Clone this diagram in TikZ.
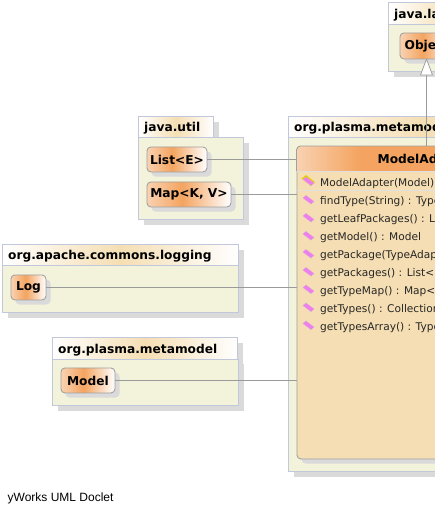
\documentclass[tikz,border=0pt]{standalone}
\usepackage{fontspec}
\usetikzlibrary{calc}
\setmainfont{DejaVu Sans}
\newfontfamily\footfont{Liberation Sans}
\definecolor{pkgline}{HTML}{C2C8DC}
\definecolor{pkgbody}{HTML}{F3F3DC}
\definecolor{shadowc}{HTML}{DADADA}
\definecolor{classline}{HTML}{A0A0A0}
\definecolor{classbody}{HTML}{F5DEB3}
\definecolor{connc}{HTML}{9A9A9A}
\definecolor{orangec}{HTML}{F4A460}
\definecolor{orangel}{HTML}{F9D2B2}
\definecolor{iconpink}{HTML}{F07CF0}
\definecolor{iconedge}{HTML}{D8A8D8}
\definecolor{iconyellow}{HTML}{E8D000}
\pgfdeclarehorizontalshading{tabshade}{100bp}{color(0bp)=(white);color(25bp)=(white);color(50bp)=(classbody);color(75bp)=(white);color(100bp)=(white)}
\pgfdeclarehorizontalshading{classshade}{100bp}{color(0bp)=(orangel);color(25bp)=(orangel);color(46bp)=(orangec);color(75bp)=(white);color(100bp)=(white)}
\pgfdeclarehorizontalshading{headshade}{100bp}{color(0bp)=(orangel);color(25bp)=(orangel);color(37bp)=(orangec);color(75bp)=(orangec);color(100bp)=(orangec)}
\tikzset{
  x=1pt,y=-1pt,
  pkgbodyst/.style={draw=pkgline,fill=pkgbody,line width=.8pt},
  pkgtab/.style={draw=pkgline,line width=.8pt,shading=tabshade},
  shadowst/.style={fill=shadowc,draw=none},
  pkgtitle/.style={anchor=base west,inner sep=0pt,font=\fontsize{12.2}{14}\selectfont\bfseries,text=black},
  cls/.style={draw=classline,line width=.9pt,rounded corners=4pt,shading=classshade,anchor=north west,inner sep=0pt,font=\fontsize{12.2}{14}\selectfont\bfseries,text=black},
  conn/.style={draw=connc,line width=.8pt},
  member/.style={anchor=base west,inner sep=0pt,font=\fontsize{10.6}{12}\selectfont,text=black!85},
  iconst/.style={fill=iconpink,draw=iconedge,line width=.4pt},
}
\newcommand{\pkg}[7]{% x1 y1 tabright tabbottom right bottom title
  \fill[shadowst] (#1+5,#2+5) rectangle (#3+5,#4+5);
  \fill[shadowst] (#1+5,#4+5) rectangle (#5+5,#6+5);
  \draw[pkgbodyst] (#1,#4) rectangle (#5,#6);
  \draw[pkgtab] (#1,#2) rectangle (#3,#4);
  \node[pkgtitle] at (#1+5.5,#4-6) {#7};
}
\newcommand{\clsnode}[6]{% name x y w h text
  \fill[shadowst,rounded corners=4pt] (#2+5,#3+5) rectangle (#2+#4+5,#3+#5+5);
  \node[cls,minimum width=#4pt,minimum height=#5pt] (#1) at (#2,#3) {#6};
}
\newcommand{\mbr}[2]{% y text
  \path[iconst] (303,#1-2.5) -- (306,#1-5) -- (314,#1+1) -- (311,#1+3.5) -- cycle;
  \node[member] at (320,#1+4) {#2};
}
\begin{document}
\begin{tikzpicture}
\useasboundingbox (0,0) rectangle (435,514);
\clip (0,0) rectangle (435,514);
\fill[white] (0,0) rectangle (435,514);
% packages
\pkg{388.5}{2.5}{520}{24}{520}{71.5}{java.lang}
\pkg{288.5}{116.5}{560}{137}{560}{471.5}{org.plasma.metamodel.adapter}
\pkg{138.5}{116.5}{213.5}{137.5}{243.5}{219.5}{java.util}
\pkg{2.5}{244.5}{238.5}{265.5}{238.5}{312.5}{org.apache.commons.logging}
\pkg{52.5}{337.5}{237.5}{359}{238.5}{405.5}{org.plasma.metamodel}
% classes
\clsnode{object}{399.5}{32.5}{54}{26}{Object}
\clsnode{list}{146.5}{146.5}{60}{25}{List<E>}
\clsnode{map}{146.5}{181.5}{84}{25}{Map<K, V>}
\clsnode{log}{10.5}{274.5}{35}{25}{Log}
\clsnode{model}{60.5}{367.5}{54}{25}{Model}
% adapter class
\fill[shadowst,rounded corners=4pt] (301.5,151) rectangle (560,463.5);
\node[draw=classline,line width=.9pt,rounded corners=4pt,fill=classbody,anchor=north west,inner sep=0pt,minimum width=260pt,minimum height=312.5pt] (adapter) at (296.5,146) {};
\begin{scope}
\clip[rounded corners=4pt] (296.5,146) rectangle (560,180);
\shade[shading=headshade] (296.5,146) rectangle (560,171);
\end{scope}
\draw[classline,line width=.9pt,rounded corners=4pt] (296.5,171) -- (296.5,146) -- (560,146);
\node[anchor=base west,inner sep=0pt,font=\fontsize{12.2}{14}\selectfont\bfseries] at (377.5,163.5) {ModelAdapter};
\draw[white!88!black,line width=.8pt] (297,171.5) -- (560,171.5);
\draw[white!88!black,line width=.8pt] (297,190.5) -- (560,190.5);
% members
\path[fill=iconyellow] (301.5,178.5) -- (306,175) -- (315,182) -- (311,186) -- cycle;
\mbr{182}{ModelAdapter(Model)}
\mbr{200.5}{findType(String) : Type}
\mbr{218.5}{getLeafPackages() : List}
\mbr{236.5}{getModel() : Model}
\mbr{254.5}{getPackage(TypeAdapter)}
\mbr{272.5}{getPackages() : List<Package>}
\mbr{290}{getTypeMap() : Map<String>}
\mbr{308}{getTypes() : Collection}
\mbr{326}{getTypesArray() : Type[]}
% connectors
\draw[conn] (list.east) -- (list.east -| adapter.west);
\draw[conn] (map.east) -- (map.east -| adapter.west);
\draw[conn] (log.east) -- (log.east -| adapter.west);
\draw[conn] (model.east) -- (model.east -| adapter.west);
\coordinate (arrowbase) at (426.5,75);
\draw[conn] (arrowbase |- adapter.north) -- (arrowbase);
\draw[classline,fill=white,line width=.8pt] (420.5,75) -- (426.5,59) -- (432.5,75) -- cycle;
\node[anchor=base west,inner sep=0pt,font=\footfont\fontsize{12}{14}\selectfont] (foot) at (7.5,501) {yWorks UML Doclet};
\end{tikzpicture}
\end{document}
